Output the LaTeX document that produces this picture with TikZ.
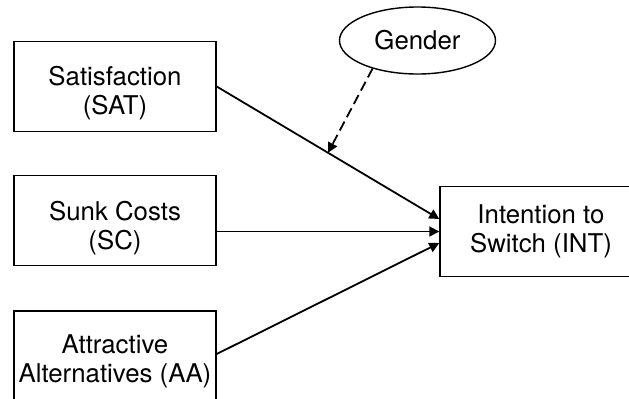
\documentclass[tikz,border=0pt]{standalone}
\usepackage{fontspec}
\setmainfont{TeX Gyre Heros}
\usetikzlibrary{arrows.meta,shapes.geometric}
\begin{document}
\begin{tikzpicture}[x=0.5pt, y=-0.5pt,
    construct/.style={draw, line width=0.7pt, minimum width=101pt, minimum height=45pt, inner sep=0pt},
    caption/.style={align=center, inner sep=0pt, font=\fontsize{12.9}{14.5}\selectfont},
    effect/.style={line width=0.9pt, -{Triangle[length=5pt,width=5pt]}}]
  \useasboundingbox (0,0) rectangle (629,398);
  \clip (0,0) rectangle (629,398);

  % constructs
  \node [construct] (sat) at (115, 86.5) {};
  \node [caption] at ([yshift=-3.5pt]sat.center) {Satisfaction\\(SAT)};
  \node [construct] (sc) at (115, 220.5) {};
  \node [caption] at ([yshift=-4pt]sc.center) {Sunk Costs\\(SC)};
  \node [construct] (aa) at (115, 356) {};
  \node [caption] at ([yshift=-2.5pt]aa.center) {Attractive\\Alternatives (AA)};
  \node [construct] (int) at (541, 231.5) {};
  \node [caption] at (int.center) {Intention to\\Switch (INT)};
  \node [draw, ellipse, line width=0.7pt, minimum width=78pt, minimum height=33.5pt, inner sep=0pt, caption] (gender) at (417.5, 40.5) {Gender};

  % paths
  \draw [effect] (sat.east) -- coordinate (mod) ([yshift=6.25pt]int.west);
  \draw [effect] (sc.east |- int.west) -- (int.west);
  \draw [effect] ([yshift=1pt]aa.east) -- ([yshift=-5.75pt]int.west);
  \draw [effect, dash pattern=on 5pt off 2.5pt] (gender.212) -- (mod);
\end{tikzpicture}
\end{document}
